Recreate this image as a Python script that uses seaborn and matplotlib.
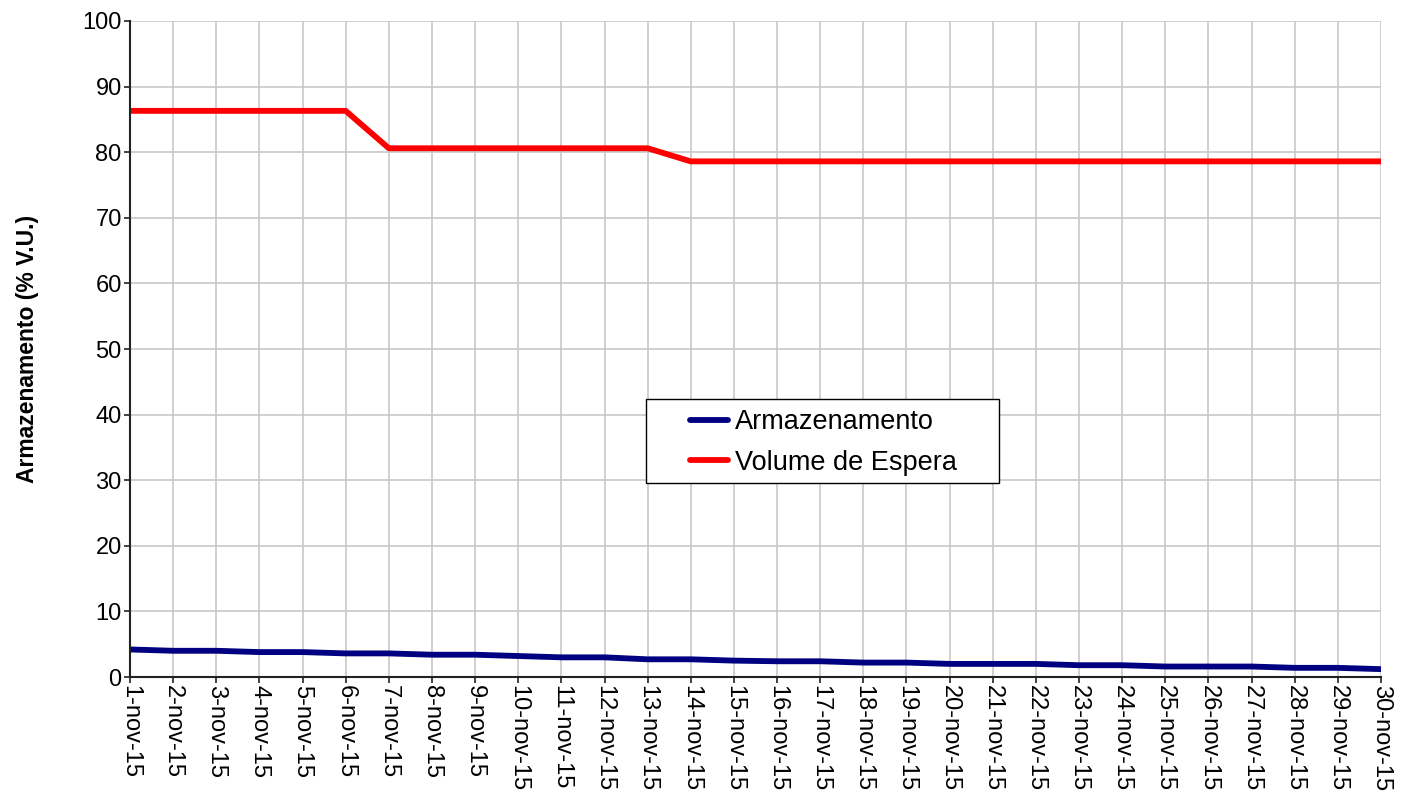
import numpy as np
import pandas as pd
import matplotlib
matplotlib.use("Agg")
import matplotlib.pyplot as plt
from matplotlib.patches import Rectangle
import seaborn as sns

# Datos
dias = [f"{d}-nov-15" for d in range(1, 31)]
armazenamento = [4.2, 4.0, 4.0, 3.8, 3.8, 3.6, 3.6, 3.4, 3.4, 3.2,
                 3.0, 3.0, 2.7, 2.7, 2.5, 2.4, 2.4, 2.2, 2.2, 2.0,
                 2.0, 2.0, 1.8, 1.8, 1.6, 1.6, 1.6, 1.4, 1.4, 1.2]
volume_espera = [86.3, 86.3, 86.3, 86.3, 86.3, 86.3, 80.6, 80.6, 80.6, 80.6,
                 80.6, 80.6, 80.6, 78.6, 78.6, 78.6, 78.6, 78.6, 78.6, 78.6,
                 78.6, 78.6, 78.6, 78.6, 78.6, 78.6, 78.6, 78.6, 78.6, 78.6]

df = pd.DataFrame({
    "idx": np.arange(len(dias)),
    "Armazenamento": armazenamento,
    "Volume de Espera": volume_espera,
})

sns.set_style("white")
plt.rcParams["font.family"] = ["Liberation Sans", "DejaVu Sans"]
plt.rcParams["text.color"] = "black"
plt.rcParams["axes.labelcolor"] = "black"
plt.rcParams["xtick.color"] = "black"
plt.rcParams["ytick.color"] = "black"

fig = plt.figure(figsize=(14.07, 7.95), dpi=100)
ax = fig.add_axes([0.0924, 0.1484, 0.8891, 0.8252])

sns.lineplot(data=df, x="idx", y="Armazenamento", color="#000080", linewidth=4.2,
             label="Armazenamento", ax=ax, solid_capstyle="round")
sns.lineplot(data=df, x="idx", y="Volume de Espera", color="#FF0000", linewidth=4.2,
             label="Volume de Espera", ax=ax, solid_capstyle="round")

ax.set_xlim(0, len(dias) - 1)
ax.set_ylim(0, 100)
ax.set_yticks(range(0, 101, 10))
ax.set_xticks(df["idx"])
ax.set_xticklabels(dias, rotation=270, fontsize=17, va="top", ha="center")
ax.tick_params(axis="y", labelsize=17)
ax.tick_params(axis="both", direction="out", length=4.5, width=1.2, pad=1.5,
               color="#222222", labelcolor="black", bottom=True, left=True)
ax.grid(True, color="#c8c8c8", linewidth=1.2)
ax.set_axisbelow(True)

for s in ["top", "right"]:
    ax.spines[s].set_visible(False)
for s in ["left", "bottom"]:
    ax.spines[s].set_color("#222222")
    ax.spines[s].set_linewidth(1.5)

ax.set_xlabel("")
ax.set_ylabel("Armazenamento (% V.U.)", fontsize=16.5, fontweight="bold", labelpad=31)

# caja de la leyenda
ax.add_patch(Rectangle((0.4125, 0.2957), 0.2822, 0.128, transform=ax.transAxes,
                       facecolor="white", edgecolor="black", linewidth=1.0, zorder=5))
leg = ax.legend(loc="center left", bbox_to_anchor=(0.448, 0.3575), frameon=False,
                fontsize=19.5, handlelength=1.4, borderaxespad=0, borderpad=0,
                labelspacing=0.55, handletextpad=0.25)
leg.set_zorder(6)
for t in leg.get_texts():
    t.set_color("black")

fig.savefig("out.png", dpi=100)
